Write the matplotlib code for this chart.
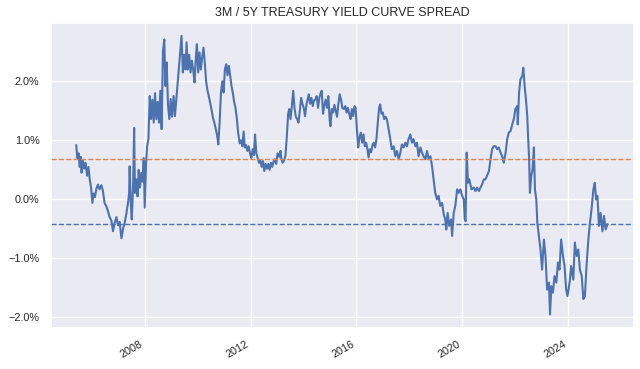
import pandas as pd
import matplotlib
matplotlib.use("Agg")
import matplotlib.pyplot as plt
import matplotlib.dates as mdates
from matplotlib.ticker import PercentFormatter
import seaborn as sns

# spread values (decimal year, percent)
years_0508 = [2005.41, 2005.45, 2005.50, 2005.54, 2005.58, 2005.61, 2005.66, 2005.71, 2005.76, 2005.82,
              2005.87, 2005.92, 2005.97, 2006.02, 2006.07, 2006.12, 2006.17, 2006.23, 2006.29, 2006.36,
              2006.42, 2006.48, 2006.55, 2006.61, 2006.67, 2006.74, 2006.80, 2006.86, 2006.93, 2006.99,
              2007.05, 2007.12, 2007.18, 2007.24, 2007.31, 2007.37, 2007.41, 2007.43, 2007.47, 2007.51,
              2007.56, 2007.60, 2007.63, 2007.68, 2007.73, 2007.77, 2007.82, 2007.87, 2007.92, 2007.96,
              2008.00, 2008.05, 2008.09, 2008.14, 2008.19, 2008.24, 2008.29, 2008.34, 2008.39, 2008.44,
              2008.49, 2008.54, 2008.59, 2008.64, 2008.69, 2008.74, 2008.78, 2008.83, 2008.88, 2008.93,
              2008.98, 2009.03, 2009.09, 2009.14]
spread_0508 = [0.92, 0.70, 0.78, 0.55, 0.72, 0.45, 0.66, 0.52, 0.62, 0.40,
               0.55, 0.34, 0.20, -0.06, 0.10, 0.04, 0.18, 0.25, 0.17, 0.24,
               0.14, -0.06, -0.12, -0.20, -0.30, -0.36, -0.54, -0.40, -0.30, -0.44,
               -0.38, -0.66, -0.50, -0.40, -0.23, -0.05, 0.11, 0.56, -0.05, -0.34,
               0.23, 1.21, 0.11, 0.34, 0.05, 0.50, 0.20, 0.45, 0.30, 0.70,
               -0.14, 0.60, 0.90, 1.02, 1.75, 1.36, 1.69, 1.30, 1.80, 1.36,
               1.65, 1.30, 1.84, 1.19, 2.51, 2.71, 1.92, 2.32, 1.60, 1.36,
               1.70, 1.40, 1.75, 1.41]

years_0913 = [2009.39, 2009.44, 2009.49, 2009.54, 2009.58, 2009.63, 2009.68, 2009.73, 2009.78, 2009.83,
              2009.88, 2009.93, 2009.97, 2010.02, 2010.07, 2010.12, 2010.17, 2010.22, 2010.27, 2010.32,
              2010.37, 2010.42, 2010.47, 2010.52, 2010.58, 2010.63, 2010.68, 2010.73, 2010.78, 2010.83,
              2010.88, 2010.93, 2010.98, 2011.03, 2011.08, 2011.13, 2011.18, 2011.23, 2011.28, 2011.33,
              2011.38, 2011.43, 2011.48, 2011.53, 2011.59, 2011.64, 2011.69, 2011.74, 2011.78, 2011.83,
              2011.88, 2011.93, 2011.98, 2012.03, 2012.08, 2012.13, 2012.17, 2012.22, 2012.27, 2012.32,
              2012.37, 2012.42, 2012.47, 2012.52, 2012.57, 2012.62, 2012.67, 2012.72, 2012.77, 2012.82,
              2012.87, 2012.92, 2012.97, 2013.02, 2013.08, 2013.13]
spread_0913 = [2.77, 2.15, 2.45, 2.20, 2.66, 2.20, 2.45, 2.15, 2.35, 2.20,
               1.98, 2.40, 2.63, 2.15, 2.49, 2.20, 2.40, 2.57, 2.32, 2.00,
               1.85, 1.75, 1.64, 1.53, 1.38, 1.30, 1.20, 1.10, 0.93, 1.30,
               1.80, 2.00, 1.81, 2.20, 2.29, 2.10, 2.26, 2.10, 1.92, 1.80,
               1.65, 1.55, 1.38, 1.13, 0.95, 1.00, 0.90, 1.15, 0.88, 0.92,
               0.82, 0.90, 0.78, 0.70, 0.85, 0.75, 1.10, 0.78, 0.70, 0.62,
               0.66, 0.55, 0.65, 0.48, 0.60, 0.52, 0.60, 0.50, 0.62, 0.55,
               0.64, 0.68, 0.60, 0.78, 0.72, 0.82]

years_1317 = [2013.16, 2013.21, 2013.27, 2013.32, 2013.37, 2013.42, 2013.46, 2013.51, 2013.56, 2013.61,
              2013.66, 2013.71, 2013.76, 2013.81, 2013.86, 2013.91, 2013.96, 2014.01, 2014.06, 2014.11,
              2014.16, 2014.20, 2014.25, 2014.30, 2014.35, 2014.40, 2014.45, 2014.50, 2014.55, 2014.60,
              2014.65, 2014.69, 2014.74, 2014.79, 2014.84, 2014.89, 2014.94, 2014.99, 2015.02, 2015.07,
              2015.12, 2015.17, 2015.22, 2015.27, 2015.32, 2015.37, 2015.42, 2015.47, 2015.53, 2015.58,
              2015.63, 2015.68, 2015.73, 2015.78, 2015.83, 2015.88, 2015.93, 2015.97, 2016.02, 2016.07,
              2016.12, 2016.17, 2016.22, 2016.27, 2016.32, 2016.37, 2016.42, 2016.46, 2016.51, 2016.56,
              2016.61, 2016.66, 2016.71, 2016.76, 2016.81, 2016.86, 2016.90, 2016.95, 2017.00, 2017.05,
              2017.10]
spread_1317 = [0.70, 0.62, 0.66, 0.75, 1.07, 1.45, 1.53, 1.36, 1.58, 1.84,
               1.55, 1.40, 1.36, 1.30, 1.50, 1.72, 1.62, 1.55, 1.41, 1.60,
               1.70, 1.78, 1.62, 1.72, 1.58, 1.68, 1.69, 1.75, 1.55, 1.72,
               1.80, 1.84, 1.45, 1.60, 1.69, 1.55, 1.75, 1.35, 1.24, 1.53,
               1.47, 1.60, 1.50, 1.40, 1.62, 1.78, 1.69, 1.55, 1.53, 1.58,
               1.47, 1.55, 1.45, 1.36, 1.53, 1.41, 1.58, 1.55, 1.19, 0.88,
               1.05, 1.13, 0.96, 1.10, 0.90, 0.96, 0.85, 0.71, 0.85, 0.80,
               0.92, 0.96, 0.88, 1.02, 1.30, 1.55, 1.61, 1.45, 1.47, 1.36,
               1.40]

years_1721 = [2017.15, 2017.22, 2017.28, 2017.34, 2017.41, 2017.47, 2017.53, 2017.60, 2017.66, 2017.72,
              2017.79, 2017.85, 2017.91, 2017.97, 2018.04, 2018.10, 2018.16, 2018.23, 2018.29, 2018.35,
              2018.42, 2018.48, 2018.54, 2018.61, 2018.67, 2018.73, 2018.80, 2018.86, 2018.92, 2018.98,
              2019.05, 2019.11, 2019.17, 2019.24, 2019.30, 2019.36, 2019.40, 2019.45, 2019.51, 2019.58,
              2019.62, 2019.68, 2019.74, 2019.81, 2019.87, 2019.93, 2020.00, 2020.06, 2020.10, 2020.13,
              2020.17, 2020.22, 2020.27, 2020.35, 2020.44, 2020.50, 2020.56, 2020.63, 2020.69, 2020.75,
              2020.82, 2020.88, 2020.94, 2021.01, 2021.07, 2021.13, 2021.19]
spread_1721 = [1.36, 1.19, 1.02, 0.85, 0.90, 0.73, 0.82, 0.68, 0.79, 0.93,
               0.88, 0.96, 0.90, 1.02, 1.10, 0.96, 1.02, 0.90, 0.96, 0.73,
               0.88, 0.79, 0.73, 0.68, 0.82, 0.68, 0.73, 0.56, 0.34, 0.11,
               0.00, 0.06, -0.11, -0.06, -0.25, -0.34, -0.51, -0.23, -0.45, -0.34,
               -0.62, -0.23, -0.11, 0.17, 0.11, 0.17, 0.06, 0.00, -0.34, -0.37,
               0.79, 0.28, 0.34, 0.17, 0.20, 0.14, 0.20, 0.14, 0.20, 0.25,
               0.34, 0.34, 0.40, 0.48, 0.68, 0.85, 0.90]

years_2125 = [2021.26, 2021.32, 2021.38, 2021.45, 2021.51, 2021.57, 2021.64, 2021.70, 2021.76, 2021.83,
              2021.89, 2021.95, 2022.01, 2022.08, 2022.10, 2022.15, 2022.20, 2022.27, 2022.31, 2022.36,
              2022.41, 2022.46, 2022.49, 2022.53, 2022.56, 2022.61, 2022.66, 2022.71, 2022.75, 2022.80,
              2022.84, 2022.90, 2022.96, 2023.02, 2023.09, 2023.15, 2023.21, 2023.28, 2023.32, 2023.37,
              2023.43, 2023.49, 2023.56, 2023.62, 2023.68, 2023.74, 2023.81, 2023.87, 2023.93, 2023.98,
              2024.06, 2024.12, 2024.20, 2024.26, 2024.33, 2024.39, 2024.45, 2024.52, 2024.58, 2024.64,
              2024.70, 2024.77, 2024.83, 2024.89, 2024.96, 2025.01, 2025.06, 2025.11, 2025.17, 2025.23,
              2025.30, 2025.36, 2025.42, 2025.49]
spread_2125 = [0.90, 0.85, 0.88, 0.79, 0.73, 0.62, 0.79, 1.02, 1.13, 1.16,
               1.27, 1.36, 1.53, 1.58, 1.27, 1.81, 2.03, 2.09, 2.23, 1.92,
               1.69, 1.41, 1.07, 0.68, 0.11, 0.40, 0.51, 0.88, 0.17, 0.00,
               -0.40, -0.62, -0.85, -1.19, -0.68, -0.96, -1.53, -1.41, -1.95, -1.47,
               -1.58, -1.30, -1.41, -1.07, -1.19, -0.68, -0.96, -1.13, -1.53, -1.64,
               -1.41, -1.13, -1.36, -0.73, -0.96, -0.85, -1.19, -1.30, -1.69, -1.64,
               -1.13, -0.68, -0.40, -0.17, 0.17, 0.28, 0.00, 0.06, -0.45, -0.23,
               -0.54, -0.28, -0.51, -0.42]

upper_band = 0.69
lower_band = -0.42

years = years_0508 + years_0913 + years_1317 + years_1721 + years_2125
spread = spread_0508 + spread_0913 + spread_1317 + spread_1721 + spread_2125
dates = [pd.Timestamp(int(y), 1, 1) + pd.Timedelta(days=(y - int(y)) * 365.25) for y in years]
s = pd.Series(spread, index=pd.DatetimeIndex(dates))

sns.set_theme(style="darkgrid")
plt.rcParams['font.family'] = ['Liberation Sans', 'DejaVu Sans']

fig, ax = plt.subplots(figsize=(6.4, 3.69), dpi=100)
fig.subplots_adjust(left=0.079, right=0.99, top=0.938, bottom=0.111)

ax.plot(s.index, s.values, color='#4c72b0', lw=1.5)
ax.axhline(upper_band, color='#dd8452', ls='--', lw=1.0)
ax.axhline(lower_band, color='#4c72b0', ls='--', lw=1.0)

ax.set_xlim(pd.Timestamp('2004-06-10'), pd.Timestamp('2026-06-25'))
ax.set_ylim(-2.18, 2.99)
ax.xaxis.set_major_locator(mdates.YearLocator(4))
ax.xaxis.set_major_formatter(mdates.DateFormatter('%Y'))
ax.yaxis.set_major_formatter(PercentFormatter(decimals=1))
ax.tick_params(labelsize=7.8, pad=2)
for lbl in ax.get_xticklabels():
    lbl.set_rotation(30)
    lbl.set_ha('right')
ax.set_title('3M / 5Y TREASURY YIELD CURVE SPREAD', fontsize=9, pad=5)

fig.savefig('out.png', dpi=100)
